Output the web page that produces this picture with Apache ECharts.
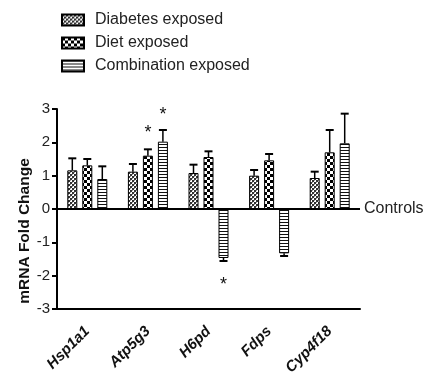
<!DOCTYPE html>
<html><head><meta charset="utf-8">
<script src="https://cdn.jsdelivr.net/npm/echarts@6/dist/echarts.min.js"></script>
<style>html,body{margin:0;padding:0;background:#fff}#c{width:423px;height:385px}</style>
</head><body><div id="c"></div>
<script>
const categories = ['Hsp1a1','Atp5g3','H6pd','Fdps','Cyp4f18'];
const seriesNames = ['Diabetes exposed','Diet exposed','Combination exposed'];
const diabetes = [1.16, 1.12, 1.08, 1.0, 0.93];
const diet = [1.31, 1.6, 1.56, 1.46, 1.7];
const combination = [0.9, 2.02, -1.47, -1.33, 1.97];
const diabetesErr = [1.52, 1.35, 1.33, 1.17, 1.12];
const dietErr = [1.5, 1.79, 1.73, 1.65, 2.37];
const combinationErr = [1.28, 2.37, -1.56, -1.41, 2.86];
// stars: [category index, series index, y value]
const stars = [[1,1,2.28],[1,2,2.82],[2,2,-2.28]];
const yTicks = [-3,-2,-1,0,1,2,3];

function makePattern(type){
  const c = document.createElement('canvas');
  if(type===0){
    c.width=4;c.height=4;const g=c.getContext('2d');
    g.fillStyle='#fff';g.fillRect(0,0,4,4);
    g.fillStyle='#333';
    g.fillRect(0,0,2,2);g.fillRect(2,2,2,2);
    g.fillStyle='#999';g.fillRect(2,0,1,1);g.fillRect(0,2,1,1);
  } else if(type===1){
    c.width=6;c.height=6;const g=c.getContext('2d');
    g.fillStyle='#fff';g.fillRect(0,0,6,6);
    g.fillStyle='#000';g.fillRect(0,0,3,3);g.fillRect(3,3,3,3);
  } else {
    c.width=4;c.height=3;const g=c.getContext('2d');
    g.fillStyle='#fff';g.fillRect(0,0,4,3);
    g.fillStyle='#111';g.fillRect(0,0,4,1);
  }
  return {image:c, repeat:'repeat'};
}
const FONT='Liberation Sans, Arial';
const values=[diabetes,diet,combination];
const errs=[diabetesErr,dietErr,combinationErr];
const chart = echarts.init(document.getElementById('c'));
const barSeries = seriesNames.map((n,i)=>({
  name:n, type:'bar', data:values[i], barWidth:10, barGap:'50%',
  itemStyle:{color:makePattern(i), borderColor:'#000', borderWidth:1},
  z:2,
  markLine: i===0 ? {symbol:'none', silent:true, animation:false,
    lineStyle:{color:'#000', width:2, type:'solid'},
    label:{show:true, position:'end', formatter:'Controls', color:'#222', fontSize:16, fontFamily:FONT, distance:4},
    data:[{yAxis:0}]} : undefined
}));
const errData=[];
for(let s=0;s<3;s++) for(let k=0;k<categories.length;k++) errData.push([k, values[s][k], errs[s][k], s]);
const starData = stars.map(st=>[st[0], st[2], st[1]]);
const option = {
  animation:false,
  textStyle:{fontFamily:FONT},
  legend:{orient:'vertical', left:56, top:7, itemWidth:22, itemHeight:11, itemGap:7,
    icon:'rect', data:seriesNames,
    textStyle:{fontSize:16, lineHeight:16, color:'#222', fontFamily:FONT, padding:[0,0,0,6]}},
  grid:{left:57, right:63, top:109, bottom:76},
  xAxis:{type:'category', data:categories,
    axisLine:{onZero:false, lineStyle:{color:'#000', width:2}},
    axisTick:{show:false},
    axisLabel:{rotate:45, margin:20, fontSize:15, fontWeight:'bold', fontStyle:'italic', color:'#111', fontFamily:FONT}},
  yAxis:{type:'value', min:-3, max:3, interval:1,
    name:'mRNA Fold Change', nameLocation:'middle', nameGap:24, nameMoveOverlap:false,
    nameTextStyle:{fontSize:15.5, fontWeight:'bold', color:'#111', fontFamily:FONT, padding:[0,44,0,0]},
    axisLine:{show:true, lineStyle:{color:'#000', width:2}},
    axisTick:{show:true, length:5, lineStyle:{color:'#000', width:2}},
    axisLabel:{fontSize:15, color:'#222', margin:7, fontFamily:FONT, formatter:v=>yTicks.includes(v)?String(v):''},
    splitLine:{show:false}},
  series:[...barSeries,
    {type:'custom', data:errData, z:3, silent:true,
      renderItem:(params,api)=>{
        const k=api.value(0), v=api.value(1), e=api.value(2), s=api.value(3);
        const off=(s-1)*15;
        const p0=api.coord([k,v]), p1=api.coord([k,e]);
        const x=p0[0]+off;
        return {type:'group', children:[
          {type:'line', shape:{x1:x,y1:p0[1],x2:x,y2:p1[1]}, style:{stroke:'#000', lineWidth:1.5}},
          {type:'line', shape:{x1:x-4,y1:p1[1],x2:x+4,y2:p1[1]}, style:{stroke:'#000', lineWidth:2}}
        ]};
      }},
    {type:'custom', data:starData, z:4, silent:true,
      renderItem:(params,api)=>{
        const k=api.value(0), y=api.value(1), s=api.value(2);
        const p=api.coord([k,y]);
        return {type:'text', style:{x:p[0]+(s-1)*15, y:p[1], text:'*', fill:'#111', font:'18px Liberation Sans, Arial', textAlign:'center', textVerticalAlign:'middle'}};
      }}
  ]
};
chart.setOption(option);
</script></body></html>
